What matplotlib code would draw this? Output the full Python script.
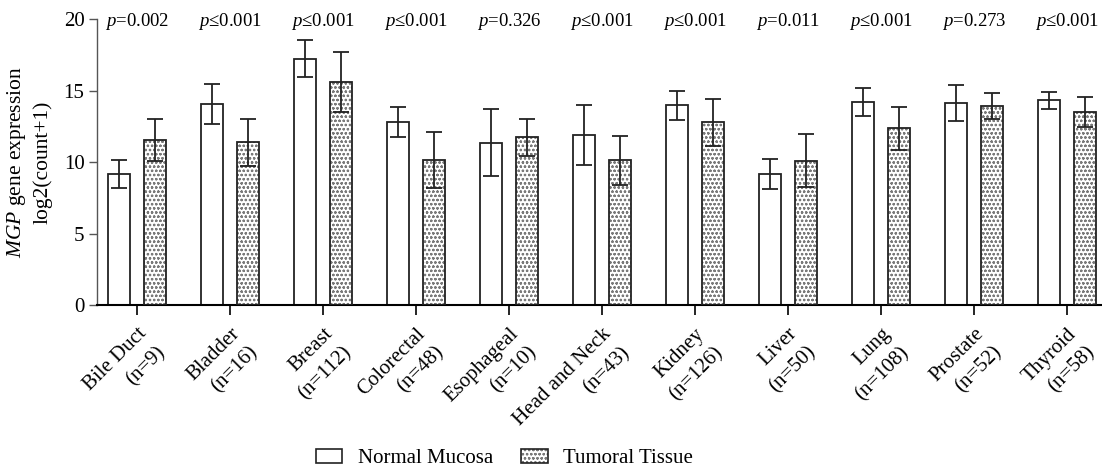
import matplotlib
matplotlib.use('Agg')
import matplotlib.pyplot as plt
import numpy as np
from matplotlib.patches import Patch
from matplotlib.legend_handler import HandlerTuple

categories = ["Bile Duct", "Bladder", "Breast", "Colorectal", "Esophageal",
              "Head and Neck", "Kidney", "Liver", "Lung", "Prostate", "Thyroid"]
n_values = [9, 16, 112, 48, 10, 43, 126, 50, 108, 52, 58]
normal_mean = [9.17, 14.1, 17.25, 12.8, 11.35, 11.9, 13.97, 9.15, 14.2, 14.12, 14.33]
normal_err = [1.0, 1.4, 1.3, 1.05, 2.35, 2.1, 1.0, 1.05, 0.97, 1.25, 0.6]
tumor_mean = [11.55, 11.38, 15.6, 10.15, 11.75, 10.13, 12.78, 10.1, 12.36, 13.95, 13.48]
tumor_err = [1.45, 1.65, 2.1, 1.95, 1.3, 1.7, 1.65, 1.87, 1.5, 0.9, 1.05]
p_labels = ["=0.002", "≤0.001", "≤0.001", "≤0.001", "=0.326", "≤0.001",
            "≤0.001", "=0.011", "≤0.001", "=0.273", "≤0.001"]
yticks = [0, 5, 10, 15, 20]

plt.rcParams['font.family'] = ['Liberation Serif', 'DejaVu Serif']
plt.rcParams['mathtext.fontset'] = 'custom'
plt.rcParams['mathtext.rm'] = 'Liberation Serif'
plt.rcParams['mathtext.it'] = 'Liberation Serif:italic'
plt.rcParams['hatch.linewidth'] = 0.6

fig = plt.figure(figsize=(11.02, 4.70), dpi=100)
ax = fig.add_axes([0.088, 0.351, 0.912, 0.608])

x = np.arange(len(categories))
w = 0.237
off = 0.19

# normal bars
ax.bar(x - off, normal_mean, w, facecolor='white', edgecolor='#222222', linewidth=1.3, zorder=2)
# tumor bars: hatch layer + outline layer
ax.bar(x + off, tumor_mean, w, facecolor='white', edgecolor='#7a7a7a', hatch='oooo', linewidth=0, zorder=2)
ax.bar(x + off, tumor_mean, w, fill=False, edgecolor='#222222', linewidth=1.3, zorder=3)

ax.errorbar(x - off, normal_mean, yerr=normal_err, fmt='none', ecolor='#222222',
            elinewidth=1.3, capsize=6, capthick=1.3, zorder=4)
ax.errorbar(x + off, tumor_mean, yerr=tumor_err, fmt='none', ecolor='#222222',
            elinewidth=1.3, capsize=6, capthick=1.3, zorder=4)

for xi, pl in zip(x, p_labels):
    ax.text(xi, 19.85, r'$p$' + pl, ha='center', va='center', fontsize=13.5)

ax.set_ylim(0, 20)
ax.set_xlim(-0.43, 10.376)
ax.set_yticks(yticks)
ax.set_xticks(x)
ax.set_xticklabels([f"{c}\n(n={n})" for c, n in zip(categories, n_values)],
                   rotation=45, ha='right', rotation_mode='anchor',
                   multialignment='right', fontsize=15, linespacing=1.5)
ax.tick_params(axis='y', labelsize=15, length=6, width=1, color='#555555', pad=3)
ax.tick_params(axis='x', length=7, width=1.2, pad=7)
ax.set_ylabel("$MGP$ gene expression\nlog2(count+1)", fontsize=15.5, labelpad=8, linespacing=1.35)

ax.spines['top'].set_visible(False)
ax.spines['right'].set_visible(False)
ax.spines['left'].set_color('#555555')
ax.spines['left'].set_linewidth(1.0)
ax.spines['bottom'].set_linewidth(1.5)

h_normal = Patch(facecolor='white', edgecolor='#222222', linewidth=1.2)
h_tumor_fill = Patch(facecolor='white', edgecolor='#7a7a7a', hatch='oooo', linewidth=0)
h_tumor_edge = Patch(fill=False, edgecolor='#222222', linewidth=1.2)
fig.legend([h_normal, (h_tumor_fill, h_tumor_edge)], ["Normal Mucosa", "Tumoral Tissue"],
           handler_map={tuple: HandlerTuple(ndivide=1, pad=0)},
           loc='center', bbox_to_anchor=(0.458, 0.024), ncol=2, frameon=False,
           fontsize=15, handlelength=1.25, handleheight=0.65, handletextpad=0.75,
           columnspacing=1.35)

fig.savefig('out.png', dpi=100)
